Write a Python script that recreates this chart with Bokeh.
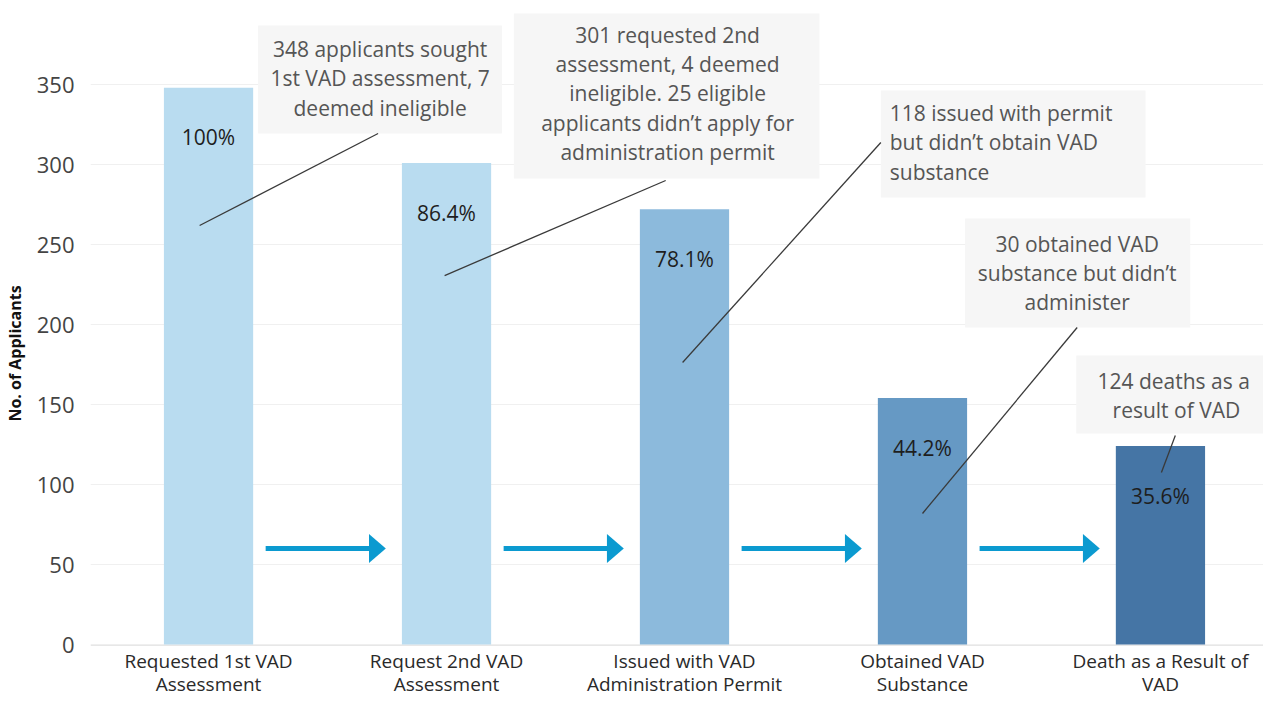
from bokeh.plotting import figure
from bokeh.models import Range1d, FixedTicker, ColumnDataSource
from bokeh.core.properties import value
from bokeh.embed import file_html
from bokeh.resources import INLINE

# ---------------- data ----------------
categories = [
    "Requested 1st VAD\nAssessment",
    "Request 2nd VAD\nAssessment",
    "Issued with VAD\nAdministration Permit",
    "Obtained VAD\nSubstance",
    "Death as a Result of\nVAD",
]
applicants = [348, 301, 272, 154, 124]
pct_labels = ["100%", "86.4%", "78.1%", "44.2%", "35.6%"]
bar_colors = ["#b9dcf0", "#b9dcf0", "#8cbadc", "#6699c4", "#4575a5"]
y_ticks = [0, 50, 100, 150, 200, 250, 300, 350]

notes = [
    "348 applicants sought\n1st VAD assessment, 7\ndeemed ineligible",
    "301 requested 2nd\nassessment, 4 deemed\nineligible. 25 eligible\napplicants didn\u2019t apply for\nadministration permit",
    "118 issued with permit\nbut didn\u2019t obtain VAD\nsubstance",
    "30 obtained VAD\nsubstance but didn\u2019t\nadminister",
    "124  deaths as a\nresult of VAD",
]

# ---------------- layout (annotation placement, data units) ----------------
PX_X = 240.0   # px per category
PX_Y = 1.6     # px per applicant
FONT = "Open Sans"

box_l = [0.208, 1.283, 2.825, 3.179, 3.646]
box_r = [1.233, 2.567, 3.9375, 4.125, 4.50]
box_t = [386.9, 394.4, 346.25, 266.25, 180.6]
box_b = [319.4, 291.25, 279.4, 198.1, 131.9]
txt_x = [0.721, 1.929, 2.8625, 3.65, 4.067]
txt_y = [353.75, 344.4, 313.75, 232.2, 155.6]
txt_align = ["center", "center", "left", "center", "center"]
lead_x0 = [-0.0375, 0.992, 1.992, 3.0, 4.004]
lead_y0 = [261.9, 230.6, 176.25, 81.9, 107.5]
lead_x1 = [0.7125, 1.921, 2.825, 3.65, 4.0625]
lead_y1 = [319.4, 290.0, 313.75, 198.1, 130.6]
cat_label_y = -17.5

xs = list(range(len(categories)))

p = figure(
    width=1263, height=696,
    x_range=Range1d(-0.496, 4.433),
    y_range=Range1d(-32.5, 396.25),
    output_backend="svg", toolbar_location=None,
    min_border_left=80, min_border_right=0, min_border_top=10, min_border_bottom=0,
)
p.outline_line_color = None
p.background_fill_color = "white"

# grid
p.xgrid.grid_line_color = None
p.ygrid.grid_line_color = "#f0f0f0"
p.ygrid.ticker = FixedTicker(ticks=y_ticks)

# axes
p.xaxis.visible = False
p.yaxis.ticker = FixedTicker(ticks=y_ticks)
p.yaxis.axis_label = "No. of Applicants"
p.yaxis.axis_label_text_font = FONT
p.yaxis.axis_label_text_font_size = "16px"
p.yaxis.axis_label_text_font_style = "bold"
p.yaxis.axis_label_text_color = "#111111"
p.yaxis.axis_label_standoff = 8
p.yaxis.major_label_text_font = FONT
p.yaxis.major_label_text_font_size = "22px"
p.yaxis.major_label_text_color = "#444444"
p.yaxis.major_label_standoff = 10
p.yaxis.major_tick_line_color = None
p.yaxis.minor_tick_line_color = None
p.yaxis.axis_line_color = None

# baseline
p.segment(x0=[-0.496], y0=[-0.6], x1=[4.433], y1=[-0.6], line_color="#e6e6e6", line_width=1)

# bars
bars = ColumnDataSource(dict(x=xs, top=applicants, color=bar_colors,
                             lab=pct_labels, ly=[v - 31 for v in applicants],
                             cat=categories, cy=[cat_label_y] * len(xs)))
p.vbar(x="x", top="top", bottom=0, width=90 / PX_X, fill_color="color",
       line_color=None, source=bars)
p.text(x="x", y="ly", text="lab", source=bars, text_align="center",
       text_baseline="middle", text_font=value(FONT), text_font_size="21px",
       text_color="#1e1e1e")

# category labels
p.text(x="x", y="cy", text="cat", source=bars, text_align="center",
       text_baseline="middle", text_font=value(FONT), text_font_size="19px",
       text_color="#2a2a2a", text_line_height=0.86)

# flow arrows between bars
arrow_color = "#0b9ad0"
a_x0 = [i + 0.24 for i in xs[:-1]]
a_tip = [i + 0.745 for i in xs[:-1]]
a_y = 60
head_len = 17 / PX_X
head_half = 14.5 / PX_Y
p.segment(x0=a_x0, y0=[a_y] * 4, x1=[t - head_len + 0.005 for t in a_tip],
          y1=[a_y] * 4, line_color=arrow_color, line_width=5)
p.patches(xs=[[t - head_len, t, t - head_len] for t in a_tip],
          ys=[[a_y + head_half, a_y, a_y - head_half] for _ in a_tip],
          fill_color=arrow_color, line_color=None)

# annotation boxes, leader lines, texts
p.quad(left=box_l, right=box_r, top=box_t, bottom=box_b,
       fill_color="#f6f6f6", line_color=None)
p.segment(x0=lead_x0, y0=lead_y0, x1=lead_x1, y1=lead_y1,
          line_color="#3a3a3a", line_width=1.3)
nsrc = ColumnDataSource(dict(x=txt_x, y=txt_y, t=notes, a=txt_align))
p.text(x="x", y="y", text="t", source=nsrc, text_align="a",
       text_baseline="middle", text_font=value(FONT), text_font_size="21px",
       text_color="#555555", text_line_height=1.05)

open("out.html", "w").write(file_html(p, INLINE))
